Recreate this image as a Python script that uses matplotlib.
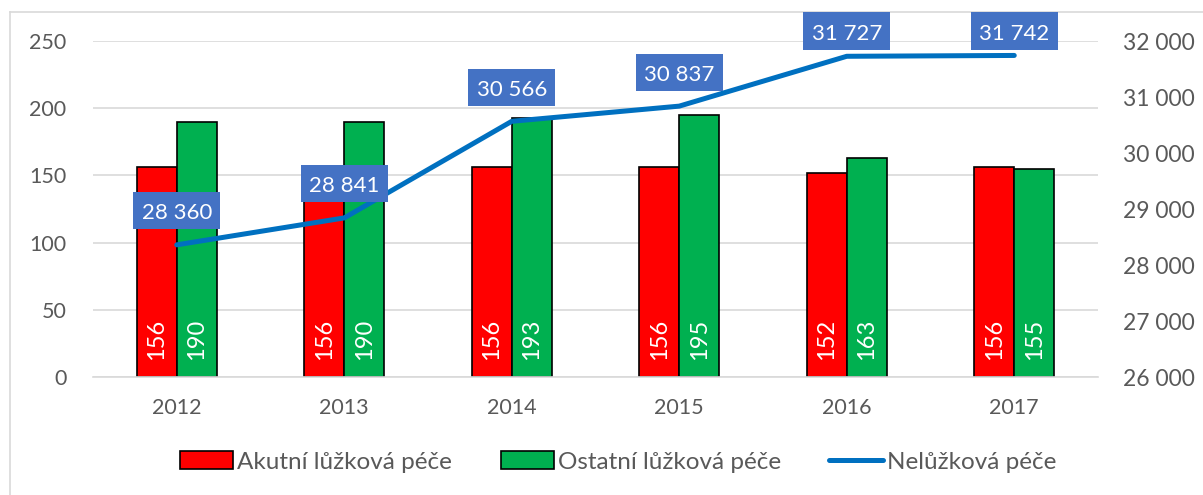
import matplotlib
matplotlib.use("Agg")
import matplotlib.pyplot as plt
from matplotlib.patches import Patch, Rectangle
from matplotlib.lines import Line2D
import numpy as np

years = ["2012", "2013", "2014", "2015", "2016", "2017"]
akutni = [156, 156, 156, 156, 152, 156]
ostatni = [190, 190, 193, 195, 163, 155]
neluzkova = [28360, 28841, 30566, 30837, 31727, 31742]

plt.rcParams['font.family'] = ['Lato', 'DejaVu Sans']
TXT = '#595959'
GRID = '#D9D9D9'

W, H = 1203, 495
fig = plt.figure(figsize=(W/100, H/100), dpi=100)

# outer chart border
fig.add_artist(Line2D([10/W, 10/W], [0, 1-12/H], color=GRID, lw=1.2))
fig.add_artist(Line2D([10/W, 1], [1-12/H, 1-12/H], color=GRID, lw=1.2))

ax = fig.add_axes([93/W, (H-377)/H, (1098-93)/W, (377-41)/H])
ax2 = ax.twinx()

x = np.arange(len(years))
bw = 0.24
ax.bar(x - bw/2, akutni, bw, color='#FF0000', edgecolor='black', linewidth=1.2, zorder=2)
ax.bar(x + bw/2, ostatni, bw, color='#00B050', edgecolor='black', linewidth=1.2, zorder=2)

for xi, v in zip(x - bw/2, akutni):
    ax.annotate(f"{v}", (xi, 0), xytext=(0, 12), textcoords='offset points',
                rotation=90, ha='center', va='bottom', color='white', fontsize=17, zorder=3)
for xi, v in zip(x + bw/2, ostatni):
    ax.annotate(f"{v}", (xi, 0), xytext=(0, 12), textcoords='offset points',
                rotation=90, ha='center', va='bottom', color='white', fontsize=17, zorder=3)

ax.set_ylim(0, 250)
ax.set_yticks(range(0, 251, 50))
ax.set_xlim(-0.5, len(years) - 0.5)
ax.set_xticks(x)
ax.set_xticklabels(years)
ax.grid(axis='y', color=GRID, linewidth=1.2, zorder=0)
ax.set_axisbelow(True)
for s in ['top', 'right', 'left']:
    ax.spines[s].set_visible(False)
ax.spines['bottom'].set_color(GRID)
ax.spines['bottom'].set_linewidth(1.2)
ax.tick_params(axis='y', length=0, pad=19, labelsize=15.5, labelcolor=TXT)
ax.tick_params(axis='x', length=0, pad=15, labelsize=15.5, labelcolor=TXT)

ax2.plot(x, neluzkova, color='#0070C0', linewidth=3.6, solid_capstyle='round', zorder=4)
ax2.set_ylim(26000, 32000)
ax2.set_yticks(range(26000, 32001, 1000))
ax2.set_yticklabels([f"{v:,}".replace(",", "\u00a0") for v in range(26000, 32001, 1000)])
for s in ['top', 'right', 'left', 'bottom']:
    ax2.spines[s].set_visible(False)
ax2.tick_params(axis='y', length=0, pad=18, labelsize=16.5, labelcolor=TXT)

# data labels above the line points, kept inside the chart area
fig.canvas.draw()
renderer = fig.canvas.get_renderer()
for xi, v in zip(x, neluzkova):
    px, py = ax2.transData.transform((xi, v))
    cy = min(py + 34, H - 31)
    t = fig.text(px / W, (cy - 2.5) / H, f"{v:,}".replace(",", "\u00a0"), ha='center', va='center',
                 color='white', fontsize=16, zorder=6)
    ext = t.get_window_extent(renderer)
    bw_px = ext.width + 17
    bh_px = 37
    fig.add_artist(Rectangle(((px - bw_px/2) / W, (cy - bh_px/2) / H), bw_px / W, bh_px / H,
                             transform=fig.transFigure, facecolor='#4472C4', edgecolor='none', zorder=5))

handles = [Patch(facecolor='#FF0000', edgecolor='black', linewidth=1.2, label='Akutní lůžková péče'),
           Patch(facecolor='#00B050', edgecolor='black', linewidth=1.2, label='Ostatní lůžková péče'),
           Line2D([0], [0], color='#0070C0', linewidth=3.6, solid_capstyle='round', label='Nelůžková péče')]
fig.legend(handles=handles, loc='center', bbox_to_anchor=(618/W, 1 - 462/H), ncol=3,
           frameon=False, fontsize=17.5, handlelength=2.2, handletextpad=0.15, columnspacing=2.0,
           labelcolor=TXT)

fig.savefig('out.png', dpi=100)
